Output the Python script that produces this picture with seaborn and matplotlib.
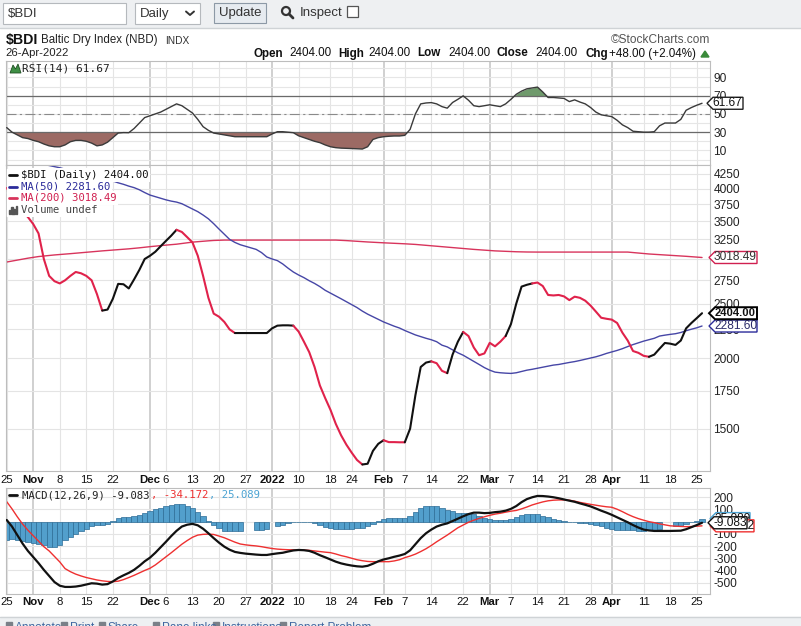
import numpy as np
import pandas as pd
import matplotlib
matplotlib.use("Agg")
import matplotlib.pyplot as plt
import matplotlib.transforms as mtransforms
from matplotlib.patches import Rectangle, Polygon, Ellipse
from matplotlib.lines import Line2D
from matplotlib.ticker import FixedLocator, NullLocator
import seaborn as sns

# ---------------- data ----------------
dates = pd.bdate_range("2021-10-25", "2022-04-26")
holidays = ["2021-12-27", "2021-12-28", "2022-01-03", "2022-04-15", "2022-04-18"]

close = [4010, 3880, 3760, 3640, 3560, 3460, 3330, 3000, 2800, 2740,
         2715, 2750, 2800, 2845, 2830, 2800, 2750, 2600, 2430, 2440,
         2550, 2710, 2706, 2660, 2760, 2870, 3000, 3040, 3090, 3160,
         3230, 3300, 3380, 3350, 3280, 3210, 3040, 2800, 2560, 2400,
         2370, 2320, 2250, 2217, 2217, 2217, 2217, 2217, 2217, 2217,
         2260, 2285, 2288, 2288, 2285, 2230, 2140, 2050, 1930, 1790,
         1700, 1620, 1530, 1460, 1405, 1360, 1320, 1296, 1300, 1370,
         1410, 1431, 1420, 1420, 1419, 1419, 1500, 1720, 1930, 1965,
         1975, 1960, 1900, 1882, 2030, 2140, 2227, 2190, 2090, 2025,
         2040, 2130, 2100, 2140, 2190, 2300, 2500, 2680, 2700, 2715,
         2725, 2686, 2590, 2585, 2590, 2575, 2536, 2572, 2560, 2530,
         2480, 2420, 2360, 2350, 2342, 2310, 2220, 2150, 2060, 2045,
         2020, 2012, 2030, 2080, 2129, 2123, 2112, 2150, 2260, 2310,
         2356, 2404]

ma50 = [4560, 4540, 4520, 4500, 4475, 4455, 4435, 4415, 4395, 4375,
        4355, 4330, 4310, 4280, 4260, 4235, 4210, 4190, 4165, 4150,
        4125, 4095, 4070, 4040, 4015, 3980, 3935, 3895, 3870, 3845,
        3820, 3800, 3785, 3760, 3720, 3680, 3640, 3590, 3535, 3465,
        3390, 3320, 3250, 3210, 3180, 3160, 3140, 3120, 3080, 3025,
        3000, 2980, 2940, 2890, 2845, 2810, 2780, 2745, 2715, 2680,
        2640, 2610, 2580, 2550, 2520, 2490, 2460, 2425, 2395, 2370,
        2345, 2320, 2300, 2280, 2263, 2240, 2220, 2200, 2185, 2170,
        2157, 2140, 2110, 2095, 2070, 2045, 2025, 2000, 1975, 1950,
        1925, 1905, 1890, 1885, 1882, 1880, 1885, 1895, 1905, 1912,
        1920, 1928, 1936, 1945, 1950, 1958, 1966, 1973, 1982, 1992,
        2002, 2012, 2025, 2040, 2052, 2065, 2080, 2098, 2115, 2130,
        2145, 2157, 2170, 2190, 2198, 2205, 2211, 2222, 2238, 2252,
        2265, 2281.60]

ma200 = [2963, 2975, 2988, 3000, 3010, 3020, 3030, 3037, 3043, 3050,
         3055, 3060, 3066, 3072, 3078, 3084, 3090, 3096, 3101, 3106,
         3111, 3116, 3121, 3127, 3133, 3140, 3148, 3155, 3162, 3169,
         3175, 3181, 3187, 3196, 3205, 3214, 3220, 3226, 3231, 3236,
         3239, 3241, 3241, 3241, 3241, 3241, 3241, 3241, 3241, 3241,
         3241, 3241, 3241, 3241, 3241, 3241, 3241, 3241, 3241, 3241,
         3241, 3241, 3241, 3238, 3234, 3230, 3225, 3220, 3216, 3212,
         3208, 3205, 3202, 3199, 3196, 3192, 3188, 3184, 3178, 3172,
         3166, 3160, 3155, 3149, 3143, 3136, 3130, 3125, 3120, 3115,
         3110, 3106, 3101, 3098, 3095, 3092, 3090, 3088, 3087, 3086,
         3086, 3086, 3086, 3086, 3086, 3086, 3086, 3086, 3086, 3086,
         3086, 3086, 3086, 3086, 3086, 3086, 3086, 3086, 3080, 3074,
         3068, 3062, 3058, 3054, 3050, 3046, 3042, 3038, 3033, 3028,
         3023, 3018.49]

rsi = [35, 30, 27, 24, 23, 21, 19.5, 17, 15, 14,
       14, 16, 19.5, 21, 21, 20, 18, 15, 16, 19,
       24, 29, 29.5, 29.4, 34, 40, 46, 48, 50, 52,
       55, 58, 61, 59, 55, 51, 44, 36, 32, 29,
       28, 27, 26, 25, 25, 25, 25, 25, 25, 25,
       28, 30.5, 30.5, 30, 29.4, 26, 24, 22, 20, 18.5,
       16, 14, 13, 12.5, 12.3, 12, 11.8, 11.5, 14, 22,
       24, 25, 25.5, 25.8, 25.8, 26.5, 33, 50, 61, 62,
       62.4, 61, 58, 56.3, 62.5, 66, 69.8, 65, 59, 58,
       59, 60, 59, 58, 61, 66, 71.5, 75, 77.5, 78.5,
       79.4, 74, 68, 68, 67.5, 67, 63.5, 65.4, 63, 61,
       57, 52, 49, 48, 47, 43, 38, 35, 31, 30.5,
       30, 30, 30.5, 37, 40, 40, 40, 44, 54, 57,
       59.5, 61.67]

macd = [14, -40, -110, -180, -240, -290, -340, -395, -445, -495,
        -525, -535, -535, -532, -525, -515, -505, -508, -516, -512,
        -490, -462, -440, -420, -395, -362, -325, -295, -255, -210,
        -165, -118, -75, -40, -25, -18, -30, -58, -95, -135,
        -172, -205, -230, -248, -256, -262, -266, -270, -273, -273,
        -266, -260, -255, -245, -236, -232, -234, -240, -255, -275,
        -292, -310, -328, -342, -352, -360, -366, -369, -362, -345,
        -325, -310, -300, -288, -278, -265, -235, -185, -135, -95,
        -65, -40, -25, -14, 5, 25, 44, 62, 74, 74,
        70, 72, 78, 82, 90, 105, 128, 160, 185, 200,
        211, 210, 206, 200, 192, 182, 172, 163, 150, 138,
        125, 108, 90, 74, 56, 36, 15, -5, -28, -48,
        -65, -72, -76, -76, -76, -76, -75, -74, -62, -45,
        -28, -9.083]

signal = [164, 105, 40, -20, -70, -115, -160, -205, -240, -285,
          -330, -385, -410, -430, -445, -458, -468, -478, -485, -490,
          -492, -488, -475, -458, -440, -420, -400, -382, -355, -322,
          -290, -255, -220, -185, -155, -128, -110, -104, -102, -105,
          -118, -132, -150, -168, -183, -190, -195, -199, -205, -213,
          -220, -225, -228, -230, -231, -232, -232, -235, -240, -245,
          -250, -254, -265, -278, -288, -300, -312, -320, -326, -328,
          -328, -328, -328, -322, -312, -295, -282, -266, -245, -222,
          -195, -165, -138, -110, -80, -50, -27, -5, 12, 27,
          40, 52, 62, 69, 78, 86, 92, 105, 120, 137,
          150, 162, 171, 176, 178, 178, 176, 168, 158, 150,
          142, 135, 128, 122, 118, 102, 82, 60, 41, 25,
          12, 0, -8, -18, -26, -34, -37, -39, -41, -40,
          -37, -34.172]

# trading-day indices where the coloured price line flips direction
trend_turns = [18, 32, 43, 54, 67, 71, 75, 80, 83, 86, 94, 99, 121]

tick_dates = ["2021-10-25", "2021-11-01", "2021-11-08", "2021-11-15", "2021-11-22",
              "2021-12-01", "2021-12-06", "2021-12-13", "2021-12-20", "2021-12-27",
              "2022-01-03", "2022-01-10", "2022-01-18", "2022-01-24", "2022-02-01",
              "2022-02-07", "2022-02-14", "2022-02-22", "2022-03-01", "2022-03-07",
              "2022-03-14", "2022-03-21", "2022-03-28", "2022-04-01", "2022-04-11",
              "2022-04-18", "2022-04-25"]
tick_labels = ["25", "Nov", "8", "15", "22", "Dec", "6", "13", "20", "27", "2022",
               "10", "18", "24", "Feb", "7", "14", "22", "Mar", "7", "14", "21",
               "28", "Apr", "11", "18", "25"]
bold_labels = {"Nov", "Dec", "2022", "Feb", "Mar", "Apr"}

price_grid = [1500, 1750, 2000, 2250, 2500, 2750, 3000, 3250, 3500, 3750, 4000, 4250]
price_ticks = [1500, 1750, 2000, 2250, 2500, 2750, 3250, 3500, 3750, 4000, 4250]
rsi_ticks = [10, 30, 50, 70, 90]
macd_ticks = [200, 100, -100, -200, -300, -400, -500]

# ---------------- style ----------------
sns.set_theme(style="white")
plt.rcParams['font.family'] = ['Liberation Sans', 'DejaVu Sans']
plt.rcParams['axes.unicode_minus'] = False
MONO = ['DejaVu Sans Mono', 'DejaVu Sans']

W, H = 801, 626
fig = plt.figure(figsize=(W / 100, H / 100), dpi=100)
fig.patch.set_facecolor('white')


def fx(px):
    return px / W


def fy(py):
    return 1 - py / H


LEFT, RIGHT = 6, 710
XLIM = (-0.13, 132.5)


def add_ax(top, bottom):
    return fig.add_axes([fx(LEFT), fy(bottom), (RIGHT - LEFT) / W, (bottom - top) / H])


x = np.arange(len(dates))
tick_pos = [dates.get_loc(pd.Timestamp(d)) for d in tick_dates]
hol_idx = [dates.get_loc(pd.Timestamp(d)) for d in holidays]


def style_ax(ax):
    ax.set_facecolor('white')
    for s in ax.spines.values():
        s.set_color('#bdbdbd')
        s.set_linewidth(0.8)
    ax.yaxis.tick_right()
    ax.tick_params(axis='x', which='both', length=0, labelbottom=False, labeltop=False)
    ax.tick_params(axis='y', which='both', length=0, pad=2.5, labelsize=8.6, labelcolor='#222')
    ax.set_xlim(*XLIM)
    for p, lab in zip(tick_pos, tick_labels):
        month = lab in bold_labels
        ax.axvline(p, color='#c8c8c8' if month else '#e4e4e4', lw=1.2 if month else 0.8, zorder=0)
    ax.set_xticks([])


# ---------------- RSI panel ----------------
ax_rsi = add_ax(61, 165)
style_ax(ax_rsi)
ax_rsi.set_ylim(-6, 108)
for v in range(0, 101, 10):
    ax_rsi.axhline(v, color='#e6e6e6', lw=0.8, zorder=0)
rsi_a = np.array(rsi)
ax_rsi.fill_between(x, rsi_a, 30, where=rsi_a <= 30, interpolate=True, color='#9c6a64', lw=0, zorder=1)
ax_rsi.fill_between(x, rsi_a, 70, where=rsi_a >= 70, interpolate=True, color='#6f9a6c', lw=0, zorder=1)
ax_rsi.axhline(70, color='#6a6a6a', lw=0.9, zorder=2)
ax_rsi.axhline(30, color='#6a6a6a', lw=0.9, zorder=2)
ax_rsi.axhline(50, color='#8a8a8a', lw=0.8, ls=(0, (9, 3, 2, 3)), zorder=2)
sns.lineplot(x=x, y=rsi_a, ax=ax_rsi, color='#3a3a3a', lw=1.0, zorder=3)
ax_rsi.yaxis.set_major_locator(FixedLocator(rsi_ticks))
ax_rsi.set_yticklabels([str(v) for v in rsi_ticks])
ax_rsi.set_xlabel('')
ax_rsi.set_ylabel('')

# ---------------- price panel ----------------
ax_main = add_ax(165, 471)
style_ax(ax_main)
ax_main.set_yscale('log')
ax_main.set_ylim(1262, 4404)
for v in price_grid:
    ax_main.axhline(v, color='#e4e4e4', lw=0.8, zorder=0)
sns.lineplot(x=x, y=ma200, ax=ax_main, color='#d8345c', lw=1.0, zorder=2)
sns.lineplot(x=x, y=ma50, ax=ax_main, color='#4646a6', lw=1.0, zorder=2)
bounds = [0] + trend_turns + [len(close) - 1]
close_a = np.array(close, dtype=float)
for k in range(len(bounds) - 1):
    a, b = bounds[k], bounds[k + 1]
    col = '#e0224b' if k % 2 == 0 else '#111111'
    sns.lineplot(x=x[a:b + 1], y=close_a[a:b + 1], ax=ax_main, color=col, lw=1.5, zorder=3)
ax_main.yaxis.set_major_locator(FixedLocator(price_ticks))
ax_main.yaxis.set_minor_locator(NullLocator())
ax_main.set_yticklabels([str(v) for v in price_ticks])
ax_main.set_xlabel('')
ax_main.set_ylabel('')

# ---------------- MACD panel ----------------
ax_macd = add_ax(488, 594)
style_ax(ax_macd)
ax_macd.set_ylim(-593, 276)
for v in range(-500, 201, 100):
    ax_macd.axhline(v, color='#e4e4e4', lw=0.8, zorder=0)
hist = np.array(macd, dtype=float) - np.array(signal, dtype=float)
hist[hol_idx] = np.nan
m = ~np.isnan(hist)
ax_macd.bar(x[m], hist[m], width=1.0, color='#529fcc', edgecolor='#2c6c96', lw=0.5, zorder=1)
sns.lineplot(x=x, y=signal, ax=ax_macd, color='#ee3030', lw=1.0, zorder=2)
sns.lineplot(x=x, y=macd, ax=ax_macd, color='#111111', lw=1.6, zorder=3)
ax_macd.yaxis.set_major_locator(FixedLocator(macd_ticks))
ax_macd.set_yticklabels([str(v) for v in macd_ticks])
ax_macd.set_xlabel('')
ax_macd.set_ylabel('')
for ax in (ax_rsi, ax_main, ax_macd):
    ax.set_xlim(*XLIM)

# ---------------- x labels ----------------
trans_x = mtransforms.blended_transform_factory(ax_main.transData, fig.transFigure)
for p, lab in zip(tick_pos, tick_labels):
    for ypix in (480, 602):
        fig.text(p, fy(ypix), lab, transform=trans_x, ha='center', va='center',
                 fontsize=8.2, fontweight='bold' if lab in bold_labels else 'normal', color='#111')

# ---------------- legends ----------------
WHITE_BOX = dict(facecolor='white', edgecolor='none', pad=1.2)


def legend_line(ypix, color, text, tcolor):
    fig.add_artist(Rectangle((fx(7), fy(ypix + 6)), 14 / W, 12 / H, transform=fig.transFigure,
                             color='white', zorder=1))
    fig.add_artist(Line2D([fx(9), fx(17)], [fy(ypix), fy(ypix)], transform=fig.transFigure,
                          color=color, lw=2, zorder=2))
    fig.text(fx(21), fy(ypix), text, family=MONO, fontsize=7.7, color=tcolor, va='center',
             bbox=WHITE_BOX)

legend_line(175, '#111111', '$BDI (Daily) 2404.00', '#111111')
legend_line(186.5, '#2b2b9a', 'MA(50) 2281.60', '#2b2b9a')
legend_line(198, '#d8345c', 'MA(200) 3018.49', '#d02050')
fig.add_artist(Rectangle((fx(7), fy(216)), 14 / W, 12 / H, transform=fig.transFigure,
                         color='white', zorder=1))
for i, hh in enumerate([4, 7, 5, 8]):
    fig.add_artist(Rectangle((fx(9 + i * 2.2), fy(214)), 1.4 / W, hh / H, transform=fig.transFigure,
                             color='#555555', zorder=2))
fig.text(fx(21), fy(210), 'Volume undef', family=MONO, fontsize=7.7, color='#444444', va='center',
         bbox=WHITE_BOX)

# RSI legend with small mountain icon
fig.add_artist(Polygon([(fx(10), fy(73)), (fx(13), fy(65)), (fx(15.5), fy(69)), (fx(18), fy(64)),
                        (fx(21), fy(73))], closed=True, transform=fig.transFigure,
                       facecolor='#3f8f45', edgecolor='#1f4f22', lw=0.6))
fig.text(fx(22.5), fy(68.5), 'RSI(14) 61.67', family=MONO, fontsize=8, color='#222', va='center')

# MACD legend
fig.add_artist(Line2D([fx(9), fx(17)], [fy(495), fy(495)], transform=fig.transFigure, color='#111', lw=2))
cw = 6.44
fig.text(fx(22), fy(495), 'MACD(12,26,9) -9.083', family=MONO, fontsize=7.7, color='#222', va='center')
fig.text(fx(22 + 20 * cw), fy(495), ', -34.172', family=MONO, fontsize=7.7, color='#ee3030', va='center')
fig.text(fx(22 + 29 * cw), fy(495), ', 25.089', family=MONO, fontsize=7.7, color='#4ba3d3', va='center')


# ---------------- value tags ----------------
def tag(ax, value, label, edge, x0, x1, tcolor='#111', bold=False, lw=1.0, z=5, size=8.6):
    yd = ax.transData.transform((0, value))[1]
    yc = H - yd
    h = 6
    pts = [(x0, yc), (x0 + 6, yc - h), (x1, yc - h), (x1, yc + h), (x0 + 6, yc + h)]
    fig.add_artist(Polygon([(fx(a), fy(b)) for a, b in pts], closed=True, transform=fig.transFigure,
                           facecolor='white', edgecolor=edge, lw=lw, zorder=z))
    t = fig.text(fx((x0 + 5 + x1) / 2), fy(yc), label, ha='center', va='center', fontsize=size,
                 color=tcolor, fontweight='bold' if bold else 'normal')
    t.set_zorder(z + 0.5)

tag(ax_rsi, 61.67, '61.67', '#222222', 707, 743)
tag(ax_main, 3018.49, '3018.49', '#d02050', 709, 757, tcolor='#333')
tag(ax_main, 2281.60, '2281.60', '#2b2b9a', 709, 757, tcolor='#2b2b6a', z=5)
tag(ax_main, 2404.00, '2404.00', '#000000', 709, 757, bold=True, lw=1.4, z=7, size=8.1)
tag(ax_macd, 25.089, '25.089', '#4ba3d3', 710, 750, z=5)
tag(ax_macd, -34.172, '-34.172', '#ee3030', 710, 754, z=7)
tag(ax_macd, -9.083, '-9.083', '#111111', 708, 747, z=9)

# ---------------- header ----------------
fig.add_artist(Rectangle((0, fy(27)), 1, 27 / H, transform=fig.transFigure, color='#eef0f2', zorder=0))
fig.add_artist(Line2D([0, 1], [fy(27.5), fy(27.5)], transform=fig.transFigure, color='#cfd3d6', lw=1))
fig.add_artist(Rectangle((fx(3), fy(24)), 123 / W, 21 / H, transform=fig.transFigure,
                         facecolor='white', edgecolor='#b5b9bd', lw=0.8))
fig.text(fx(8), fy(13.5), '$BDI', fontsize=9.5, color='#333', va='center')
fig.add_artist(Rectangle((fx(135), fy(24)), 65 / W, 21 / H, transform=fig.transFigure,
                         facecolor='white', edgecolor='#b5b9bd', lw=0.8))
fig.text(fx(140), fy(13.5), 'Daily', fontsize=9.5, color='#333', va='center')
fig.add_artist(Line2D([fx(186), fx(190), fx(194)], [fy(11.5), fy(15), fy(11.5)],
                      transform=fig.transFigure, color='#333', lw=1.4))
fig.add_artist(Rectangle((fx(214), fy(23)), 52 / W, 20 / H, transform=fig.transFigure,
                         facecolor='#e6ebf0', edgecolor='#8c99a6', lw=0.8))
fig.text(fx(240), fy(13), 'Update', fontsize=9.5, color='#333', va='center', ha='center')
fig.add_artist(Ellipse((fx(286), fy(11)), 8 / W, 8 / H, transform=fig.transFigure,
                       facecolor='none', edgecolor='#333', lw=1.6))
fig.add_artist(Line2D([fx(289), fx(293)], [fy(14), fy(18)], transform=fig.transFigure, color='#333', lw=2))
fig.text(fx(300), fy(13), 'Inspect', fontsize=9.5, color='#333', va='center')
fig.add_artist(Rectangle((fx(347), fy(17)), 11 / W, 11 / H, transform=fig.transFigure,
                         facecolor='white', edgecolor='#555', lw=0.9))

fig.text(fx(6), fy(40), '$BDI', fontsize=10.2, fontweight='bold', color='#111', va='center')
fig.text(fx(41), fy(40), 'Baltic Dry Index (NBD)', fontsize=8.3, color='#222', va='center')
fig.text(fx(165), fy(40.5), 'INDX', fontsize=7.3, color='#333', va='center')
fig.text(fx(5), fy(53), '26-Apr-2022', fontsize=8.2, color='#222', va='center')
fig.text(fx(710), fy(40), '\u00a9StockCharts.com', fontsize=8.6, color='#555', va='center', ha='right')

row = [(254, 'Open', True), (289, '2404.00', False), (338, 'High', True), (368, '2404.00', False),
       (417, 'Low', True), (448, '2404.00', False), (497, 'Close', True), (535, '2404.00', False),
       (585, 'Chg', True), (609, '+48.00 (+2.04%)', False)]
for px_, s, b in row:
    fig.text(fx(px_), fy(53.5), s, fontsize=8.4, fontweight='bold' if b else 'normal',
             color='#111', va='center')
fig.add_artist(Polygon([(fx(701), fy(57)), (fx(709), fy(57)), (fx(705), fy(51))], closed=True,
                       transform=fig.transFigure, color='#3a8a3a'))

# ---------------- footer ----------------
fig.add_artist(Rectangle((0, 0), 1, 9 / H, transform=fig.transFigure, color='#eef0f2', zorder=0))
fig.add_artist(Line2D([0, 1], [fy(617), fy(617)], transform=fig.transFigure, color='#cfd3d6', lw=1))
for px_, s in [(15, 'Annotate'), (70, 'Print'), (108, 'Share'), (162, 'Pane links'),
               (222, 'Instructions'), (289, 'Report Problem')]:
    fig.add_artist(Rectangle((fx(px_ - 9), fy(628)), 6 / W, 6 / H, transform=fig.transFigure,
                             color='#7a8088'))
    fig.text(fx(px_), fy(628), s, fontsize=8.5, color='#3f67a0', va='center')

fig.savefig('out.png', dpi=100)
